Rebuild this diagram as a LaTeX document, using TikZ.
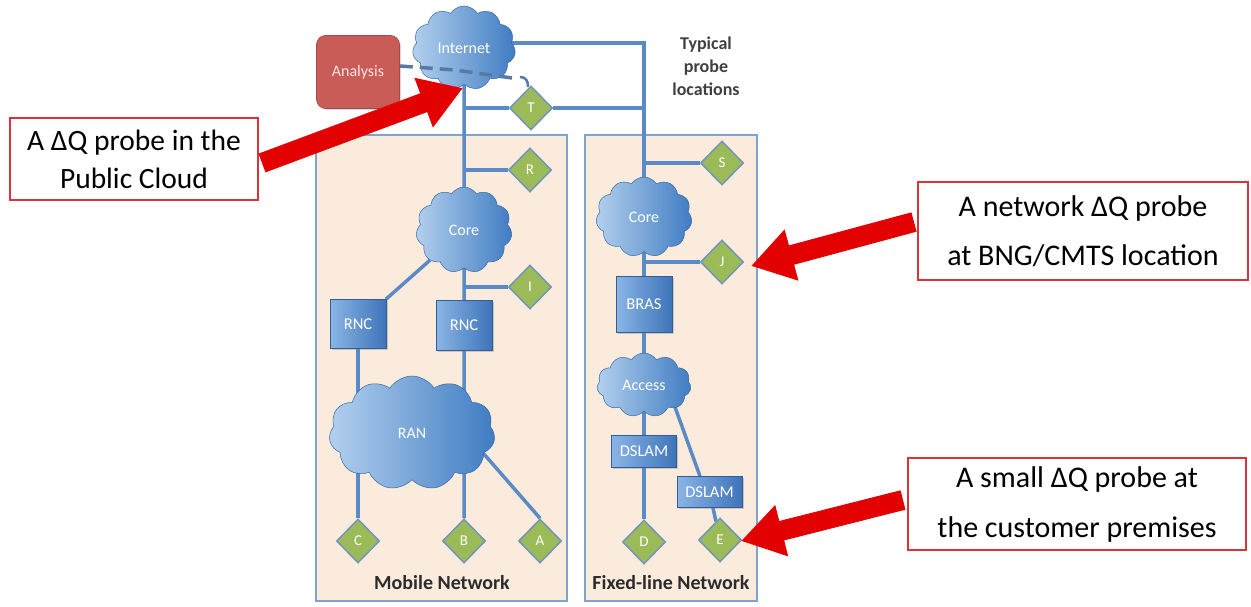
\documentclass[tikz,border=0pt]{standalone}
\usepackage{fontspec}
\setmainfont{Carlito}
\usetikzlibrary{shapes.symbols,shapes.geometric,arrows.meta,shadows}
\definecolor{panelfill}{HTML}{FBEBDD}
\definecolor{panelline}{HTML}{7EA3CE}
\definecolor{linkblue}{HTML}{5B8BC7}
\definecolor{dashblue}{HTML}{5878A8}
\definecolor{probegreen}{HTML}{9BBB59}
\definecolor{probeedge}{HTML}{7494BC}
\definecolor{cloudlight}{HTML}{B3D0EE}
\definecolor{clouddark}{HTML}{3F7CC2}
\definecolor{boxlight}{HTML}{8AB5E5}
\definecolor{boxdark}{HTML}{3E74BA}
\definecolor{analysisred}{HTML}{C95C57}
\definecolor{arrowred}{HTML}{E30000}
\definecolor{calloutred}{HTML}{D8343A}
\definecolor{labeldark}{HTML}{2B2B2B}
\pgfdeclarelayer{panels}
\pgfdeclarelayer{edges}
\pgfsetlayers{panels,edges,main}
\tikzset{
  link/.style={draw=linkblue, line width=3.5pt},
  panel/.style={draw=panelline, line width=1.2pt, fill=panelfill},
  netcloud/.style={cloud, cloud puffs=11, cloud puff arc=115, cloud ignores aspect,
    draw=clouddark!85!black, line width=0.5pt, left color=cloudlight, right color=clouddark,
    text=white, font=\fontsize{16}{18}\selectfont, inner sep=0pt},
  netbox/.style={rectangle, draw=boxdark!80!black, line width=0.6pt,
    left color=boxlight, right color=boxdark, text=white,
    font=\fontsize{16.5}{18}\selectfont, inner sep=0pt,
    drop shadow={opacity=0.35, shadow xshift=1.5pt, shadow yshift=-1.5pt}},
  probe/.style={diamond, fill=probegreen, draw=probeedge, line width=1.5pt,
    minimum width=43pt, minimum height=44pt, inner sep=0pt, text=white,
    font=\fontsize{15}{17}\selectfont},
  callout/.style={draw=calloutred, line width=1.2pt, fill=white, align=center,
    text=black, inner sep=0pt},
  bigarrow/.style={draw=arrowred, line width=20pt, -{Triangle[length=42pt,width=50pt]}},
  paneltitle/.style={font=\fontsize{20}{22}\selectfont\bfseries, text=labeldark},
}
\begin{document}
\begin{tikzpicture}[x=1pt, y=-1pt]
\useasboundingbox (0,0) rectangle (1251,607);

% network panels
\begin{pgfonlayer}{panels}
  \draw[panel] (316,135) rectangle (567,601);
  \draw[panel] (585,135) rectangle (757,601);
\end{pgfonlayer}
\node[paneltitle] (mobtitle) at (442,583) {Mobile Network};
\node[paneltitle] (fixtitle) at (671,583) {Fixed-line Network};

% analysis server
\node[rectangle, rounded corners=9pt, fill=analysisred, draw=analysisred!80!black,
  line width=0.6pt, minimum width=83pt, minimum height=73pt, text=white!90!red,
  font=\fontsize{16}{18}\selectfont,
  drop shadow={opacity=0.3, shadow xshift=1.5pt, shadow yshift=-1.5pt}]
  (analysis) at (358,72) {Analysis};

% clouds
\node[netcloud, minimum width=103pt, minimum height=84pt] (inet) at (464,48) {Internet};
\node[netcloud, minimum width=96pt, minimum height=86pt] (mcore) at (464,230) {Core};
\node[netcloud, minimum width=166pt, minimum height=114pt] (ran) at (412,433) {RAN};
\node[netcloud, minimum width=96pt, minimum height=80pt] (fcore) at (644,217) {Core};
\node[netcloud, minimum width=94pt, minimum height=64pt] (access) at (644,385) {Access};

% network elements
\node[netbox, minimum width=56pt, minimum height=49pt] (rnc1) at (358,324) {RNC};
\node[netbox, minimum width=56pt, minimum height=50pt] (rnc2) at (464,325) {RNC};
\node[netbox, minimum width=56pt, minimum height=56pt] (bras) at (644,304) {BRAS};
\node[netbox, minimum width=65pt, minimum height=32pt] (dslam1) at (644,451) {DSLAM};
\node[netbox, minimum width=65pt, minimum height=31pt] (dslam2) at (709.5,492) {DSLAM};

% probe locations
\node[probe] (T) at (531,108) {T};
\node[probe] (R) at (530,170) {R};
\node[probe] (I) at (530,287) {I};
\node[probe] (C) at (358,541) {C};
\node[probe] (B) at (464,541) {B};
\node[probe] (A) at (540,541) {A};
\node[probe] (S) at (722,163) {S};
\node[probe] (J) at (722,262) {J};
\node[probe] (D) at (644,542) {D};
\node[probe] (E) at (720,540) {E};

% links
\begin{pgfonlayer}{edges}
  \draw[link] (inet) -- (B);
  \draw[link] ([yshift=5pt]inet.center) -| (D);
  \draw[link] (inet |- T) -- (T) -- (D |- T);
  \draw[link] (inet |- R) -- (R);
  \draw[link] (inet |- I) -- (I);
  \draw[link] (D |- S) -- (S);
  \draw[link] (D |- J) -- (J);
  \draw[link] (mcore) -- (rnc1);
  \draw[link] (rnc1) -- (C);
  \coordinate (ranedge) at (470,438);
  \draw[link] (ranedge) -- (A.north);
  \draw[link] ([xshift=23pt]access.center) -- ([xshift=-9.5pt]dslam2.north);
  \draw[link] (dslam2) -- (E);
\end{pgfonlayer}

% measurement path from the analysis server
\coordinate (dmid) at (455,70);
\coordinate (dend) at (512,78);
\coordinate (hookA) at (520,77);
\coordinate (hookB) at (528,87);
\draw[dashblue, line width=3.5pt, dash pattern=on 13pt off 7pt]
  ([yshift=6pt]analysis.east) -- (dmid) -- (dend);
\draw[dashblue, line width=2.5pt] (hookA) .. controls (526,77) and (528,81) .. (hookB);

% caption
\node[align=center, font=\fontsize{18}{23}\selectfont\bfseries, text=labeldark!90]
  (typical) at (706,66) {Typical\\probe\\locations};

% callouts
\node[callout, minimum width=248pt, minimum height=82pt,
  font=\fontsize{29.5}{38}\selectfont] (call1) at (134,159)
  {A ΔQ probe in the\\Public Cloud};
\node[callout, minimum width=330pt, minimum height=98pt,
  font=\fontsize{30}{49}\selectfont] (call2) at (1083,231)
  {A network ΔQ probe\\at BNG/CMTS location};
\node[callout, minimum width=338pt, minimum height=92pt,
  font=\fontsize{30}{50}\selectfont] (call3) at (1077,504)
  {A small ΔQ probe at\\the customer premises};

% pointer arrows
\coordinate (tail1) at (262,163);
\coordinate (tip1) at (463,88);
\coordinate (tail2) at (914,222);
\coordinate (tip2) at (751,266);
\coordinate (tail3) at (903,500);
\coordinate (tip3) at (741,541);
\draw[bigarrow] (tail1) -- (tip1);
\draw[bigarrow] (tail2) -- (tip2);
\draw[bigarrow] (tail3) -- (tip3);
\end{tikzpicture}
\end{document}
